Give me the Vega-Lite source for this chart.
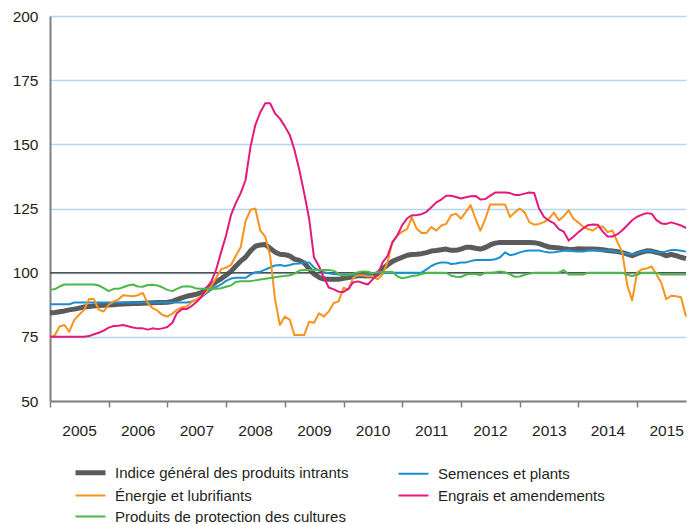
{
  "$schema": "https://vega.github.io/schema/vega-lite/v6.json",
  "width": 636,
  "height": 385,
  "autosize": {"type": "none"},
  "padding": {"left": 50, "top": 16, "right": 6, "bottom": 123},
  "config": {
    "font": "Liberation Sans, Arial",
    "view": {"stroke": null}
  },
  "datasets": {
    "names": [
      {"k": "g", "name": "Indice général des produits intrants"},
      {"k": "s", "name": "Semences et plants"},
      {"k": "e", "name": "Énergie et lubrifiants"},
      {"k": "f", "name": "Engrais et amendements"},
      {"k": "p", "name": "Produits de protection des cultures"}
    ],
    "series": [
      {"d":"2005-01","g":84.3,"s":87.7,"e":74.5,"f":75,"p":93.2},
      {"d":"2005-02","g":84.5,"s":87.7,"e":75.7,"f":75,"p":93.6},
      {"d":"2005-03","g":84.8,"s":87.7,"e":79,"f":75,"p":94.6},
      {"d":"2005-04","g":85.1,"s":87.7,"e":79.6,"f":75,"p":95.4},
      {"d":"2005-05","g":85.5,"s":87.7,"e":77,"f":75,"p":95.4},
      {"d":"2005-06","g":85.8,"s":88.4,"e":81.6,"f":75,"p":95.4},
      {"d":"2005-07","g":86.2,"s":88.4,"e":83.6,"f":75,"p":95.4},
      {"d":"2005-08","g":86.6,"s":88.4,"e":85.5,"f":75,"p":95.4},
      {"d":"2005-09","g":86.8,"s":88.4,"e":89.7,"f":75.3,"p":95.4},
      {"d":"2005-10","g":87,"s":88.4,"e":89.7,"f":76,"p":95.4},
      {"d":"2005-11","g":87.2,"s":88.4,"e":85.5,"f":76.6,"p":95},
      {"d":"2005-12","g":87.3,"s":88.4,"e":84.9,"f":77.4,"p":94},
      {"d":"2006-01","g":87.4,"s":88.4,"e":87.5,"f":78.6,"p":92.8},
      {"d":"2006-02","g":87.5,"s":88.4,"e":88.8,"f":79.2,"p":93.7},
      {"d":"2006-03","g":87.7,"s":88.4,"e":89.5,"f":79.3,"p":93.7},
      {"d":"2006-04","g":87.8,"s":88.4,"e":91.2,"f":79.6,"p":94.3},
      {"d":"2006-05","g":87.9,"s":88.4,"e":91,"f":79.1,"p":95},
      {"d":"2006-06","g":88,"s":88.4,"e":90.8,"f":78.6,"p":95.4},
      {"d":"2006-07","g":88,"s":88.4,"e":91.2,"f":78.3,"p":94.6},
      {"d":"2006-08","g":88.1,"s":88.4,"e":92.1,"f":78.3,"p":94.5},
      {"d":"2006-09","g":88.2,"s":88.4,"e":88.2,"f":77.8,"p":95.2},
      {"d":"2006-10","g":88.3,"s":88.4,"e":86.2,"f":78.3,"p":95.3},
      {"d":"2006-11","g":88.4,"s":88.4,"e":85.2,"f":78,"p":95},
      {"d":"2006-12","g":88.4,"s":88.4,"e":83.5,"f":78.3,"p":94.3},
      {"d":"2007-01","g":88.5,"s":88.4,"e":82.9,"f":78.8,"p":93.3},
      {"d":"2007-02","g":88.8,"s":88.4,"e":84,"f":80.5,"p":92.8},
      {"d":"2007-03","g":89.5,"s":88.4,"e":85.5,"f":84.2,"p":93.7},
      {"d":"2007-04","g":90.2,"s":88.4,"e":86.5,"f":85.8,"p":94.5},
      {"d":"2007-05","g":90.8,"s":88.4,"e":86.8,"f":85.8,"p":94.7},
      {"d":"2007-06","g":91.2,"s":88.8,"e":88.6,"f":87,"p":94.5},
      {"d":"2007-07","g":91.6,"s":89.4,"e":89.5,"f":88.6,"p":93.8},
      {"d":"2007-08","g":92.2,"s":90.5,"e":91,"f":90.5,"p":93.7},
      {"d":"2007-09","g":93.5,"s":92,"e":92.5,"f":94,"p":93.7},
      {"d":"2007-10","g":95,"s":93.4,"e":94.7,"f":96.5,"p":93.7},
      {"d":"2007-11","g":96.5,"s":94.5,"e":98,"f":101.3,"p":93.7},
      {"d":"2007-12","g":97.6,"s":95.4,"e":101.3,"f":107.9,"p":93.9},
      {"d":"2008-01","g":99,"s":96.8,"e":102,"f":114.5,"p":94.5},
      {"d":"2008-02","g":100.5,"s":97.7,"e":103,"f":122.5,"p":95},
      {"d":"2008-03","g":102.5,"s":98,"e":106.5,"f":127,"p":96.4},
      {"d":"2008-04","g":104.5,"s":98,"e":109.9,"f":131,"p":96.7},
      {"d":"2008-05","g":106,"s":98,"e":120,"f":136,"p":96.7},
      {"d":"2008-06","g":108.5,"s":99.2,"e":124.5,"f":149,"p":96.7},
      {"d":"2008-07","g":110.3,"s":100.2,"e":125,"f":157.5,"p":97},
      {"d":"2008-08","g":110.8,"s":100.4,"e":116.4,"f":162.5,"p":97.3},
      {"d":"2008-09","g":111,"s":101.2,"e":114,"f":166,"p":97.6},
      {"d":"2008-10","g":109.5,"s":102,"e":106.6,"f":166,"p":97.9},
      {"d":"2008-11","g":108,"s":102.8,"e":89.5,"f":162,"p":98.2},
      {"d":"2008-12","g":107.2,"s":103,"e":79.6,"f":160,"p":98.5},
      {"d":"2009-01","g":107,"s":102.6,"e":82.9,"f":157,"p":98.7},
      {"d":"2009-02","g":106.5,"s":103,"e":81.6,"f":153.5,"p":99},
      {"d":"2009-03","g":105.3,"s":103.5,"e":75.7,"f":148,"p":99.6},
      {"d":"2009-04","g":104.8,"s":103.6,"e":75.7,"f":140,"p":100.8},
      {"d":"2009-05","g":103.8,"s":104,"e":75.7,"f":131,"p":101},
      {"d":"2009-06","g":101.5,"s":104,"e":80.9,"f":121,"p":101},
      {"d":"2009-07","g":99.5,"s":102,"e":80.5,"f":106,"p":101},
      {"d":"2009-08","g":98.2,"s":100.8,"e":84.2,"f":102.5,"p":101},
      {"d":"2009-09","g":97.5,"s":100.2,"e":82.9,"f":98,"p":101},
      {"d":"2009-10","g":97.4,"s":99.8,"e":84.9,"f":94.2,"p":101},
      {"d":"2009-11","g":97.4,"s":99.5,"e":88.2,"f":93.5,"p":100.7},
      {"d":"2009-12","g":97.4,"s":99.3,"e":88.8,"f":92.6,"p":99.5},
      {"d":"2010-01","g":97.8,"s":99.2,"e":94.1,"f":92.5,"p":98.9},
      {"d":"2010-02","g":98.1,"s":99.1,"e":93.4,"f":93.8,"p":99},
      {"d":"2010-03","g":98.5,"s":99,"e":98,"f":96.2,"p":99.6},
      {"d":"2010-04","g":98.8,"s":98.9,"e":99,"f":96.6,"p":100.2},
      {"d":"2010-05","g":98.8,"s":98.8,"e":99,"f":96,"p":100.5},
      {"d":"2010-06","g":98.7,"s":99.2,"e":98.5,"f":95.4,"p":100.4},
      {"d":"2010-07","g":98.8,"s":99.8,"e":98.7,"f":97.4,"p":99.8},
      {"d":"2010-08","g":99.6,"s":100,"e":97.4,"f":99,"p":100.2},
      {"d":"2010-09","g":101.5,"s":100,"e":99.3,"f":104,"p":100.3},
      {"d":"2010-10","g":103,"s":100,"e":104,"f":106.5,"p":100.3},
      {"d":"2010-11","g":104.4,"s":100,"e":112,"f":111.8,"p":100.3},
      {"d":"2010-12","g":105.2,"s":100,"e":114.5,"f":114.5,"p":98.6},
      {"d":"2011-01","g":106,"s":100,"e":116,"f":118.5,"p":97.8},
      {"d":"2011-02","g":106.8,"s":100,"e":117.1,"f":121.2,"p":98.2},
      {"d":"2011-03","g":107.1,"s":100,"e":121.5,"f":122.3,"p":98.7},
      {"d":"2011-04","g":107.2,"s":100,"e":117.1,"f":122.5,"p":98.9},
      {"d":"2011-05","g":107.4,"s":100,"e":115.5,"f":122.8,"p":99.5},
      {"d":"2011-06","g":107.8,"s":101.3,"e":115.5,"f":123.7,"p":100},
      {"d":"2011-07","g":108.4,"s":102.6,"e":117.8,"f":125.5,"p":100},
      {"d":"2011-08","g":108.6,"s":103.5,"e":116.4,"f":127.4,"p":100},
      {"d":"2011-09","g":108.9,"s":104,"e":118.4,"f":128.5,"p":100},
      {"d":"2011-10","g":109.2,"s":104,"e":119,"f":130,"p":100},
      {"d":"2011-11","g":108.7,"s":103.4,"e":122.4,"f":130,"p":98.8},
      {"d":"2011-12","g":108.7,"s":103.6,"e":123,"f":129.5,"p":98.4},
      {"d":"2012-01","g":109.2,"s":104,"e":121,"f":128.9,"p":98.3},
      {"d":"2012-02","g":109.9,"s":104,"e":123.7,"f":129.4,"p":99.2},
      {"d":"2012-03","g":109.9,"s":104.5,"e":126.3,"f":129.8,"p":99.6},
      {"d":"2012-04","g":109.5,"s":104.9,"e":121,"f":129.9,"p":99.5},
      {"d":"2012-05","g":109.2,"s":104.9,"e":116.4,"f":128.5,"p":99},
      {"d":"2012-06","g":109.8,"s":104.9,"e":121,"f":128.7,"p":100},
      {"d":"2012-07","g":110.8,"s":104.9,"e":126.6,"f":130,"p":100},
      {"d":"2012-08","g":111.5,"s":105.2,"e":126.6,"f":131.2,"p":100.2},
      {"d":"2012-09","g":111.8,"s":106,"e":126.6,"f":131.2,"p":100.5},
      {"d":"2012-10","g":111.8,"s":107.9,"e":126.6,"f":131.2,"p":100.2},
      {"d":"2012-11","g":111.8,"s":106.8,"e":121.7,"f":131,"p":99.3},
      {"d":"2012-12","g":111.8,"s":107.2,"e":123.5,"f":130.3,"p":98.4},
      {"d":"2013-01","g":111.8,"s":107.9,"e":125,"f":130.3,"p":98.5},
      {"d":"2013-02","g":111.8,"s":108.4,"e":123.4,"f":130.8,"p":99.2},
      {"d":"2013-03","g":111.8,"s":108.6,"e":119.7,"f":131.2,"p":99.7},
      {"d":"2013-04","g":111.7,"s":108.6,"e":118.7,"f":131,"p":100},
      {"d":"2013-05","g":111.3,"s":108.6,"e":119,"f":125,"p":100},
      {"d":"2013-06","g":110.6,"s":108.2,"e":119.7,"f":121.7,"p":100},
      {"d":"2013-07","g":110,"s":107.9,"e":121,"f":120.3,"p":100},
      {"d":"2013-08","g":109.8,"s":108,"e":123.4,"f":119.3,"p":100},
      {"d":"2013-09","g":109.6,"s":108.2,"e":120.4,"f":117,"p":100},
      {"d":"2013-10","g":109.3,"s":108.5,"e":122,"f":116,"p":101},
      {"d":"2013-11","g":109.1,"s":108.8,"e":124.3,"f":112.5,"p":99.3},
      {"d":"2013-12","g":109,"s":108.3,"e":121,"f":114,"p":99.3},
      {"d":"2014-01","g":109.3,"s":108.2,"e":119.5,"f":115.8,"p":99.3},
      {"d":"2014-02","g":109.2,"s":108.2,"e":117.8,"f":117.3,"p":99.3},
      {"d":"2014-03","g":109.2,"s":108.6,"e":117,"f":118.5,"p":100},
      {"d":"2014-04","g":109.2,"s":108.8,"e":116.4,"f":118.8,"p":100},
      {"d":"2014-05","g":109.1,"s":108.6,"e":117.8,"f":118.7,"p":100},
      {"d":"2014-06","g":108.9,"s":108.6,"e":118,"f":116,"p":100},
      {"d":"2014-07","g":108.6,"s":108.6,"e":115.8,"f":114.1,"p":100},
      {"d":"2014-08","g":108.4,"s":108.5,"e":116.4,"f":114.1,"p":100},
      {"d":"2014-09","g":108.2,"s":108,"e":111.8,"f":115,"p":100},
      {"d":"2014-10","g":107.8,"s":107.7,"e":107.9,"f":116.5,"p":100},
      {"d":"2014-11","g":107.2,"s":107.4,"e":95,"f":118.5,"p":99.2},
      {"d":"2014-12","g":106.6,"s":107.2,"e":89.2,"f":120.4,"p":98.7},
      {"d":"2015-01","g":107.4,"s":107.6,"e":100,"f":121.8,"p":99.2},
      {"d":"2015-02","g":108,"s":108.2,"e":101.3,"f":122.6,"p":100},
      {"d":"2015-03","g":108.5,"s":108.6,"e":101.6,"f":123.2,"p":100},
      {"d":"2015-04","g":108.4,"s":108.4,"e":102.4,"f":123,"p":100},
      {"d":"2015-05","g":107.9,"s":108,"e":99.3,"f":120.5,"p":100},
      {"d":"2015-06","g":107.4,"s":107.9,"e":96,"f":119.2,"p":99.3},
      {"d":"2015-07","g":106.6,"s":108.3,"e":89.7,"f":119,"p":99.3},
      {"d":"2015-08","g":107.1,"s":108.8,"e":91,"f":119.6,"p":99.3},
      {"d":"2015-09","g":106.6,"s":108.8,"e":90.8,"f":119,"p":99.3},
      {"d":"2015-10","g":106,"s":108.5,"e":90.4,"f":118.4,"p":99.3},
      {"d":"2015-11","g":105.5,"s":108.2,"e":82.9,"f":117.4,"p":99.3}
    ]
  },
  "layer": [
    {
      "data": {"name": "series"},
      "transform": [
        {"fold": ["g", "s", "e", "f", "p"], "as": ["k", "v"]},
        {"lookup": "k", "from": {"data": {"name": "names"}, "key": "k", "fields": ["name"]}},
        {"filter": "datum.k === 'g'"}
      ],
      "mark": {"type": "line", "strokeWidth": 5, "strokeJoin": "round"},
      "encoding": {
        "x": {
          "field": "d", "type": "temporal",
          "scale": {"type": "utc", "domain": ["2005-01-01", "2015-11-01"]},
          "axis": {
            "title": null, "format": "%Y", "tickCount": {"interval": "year", "step": 1},
            "grid": false, "labelOffset": 29, "labelFontSize": 15.5, "labelColor": "#231f20",
            "labelPadding": 16, "tickSize": 6, "tickColor": "#808080", "tickWidth": 1.5,
            "domainColor": "#808080", "domainWidth": 2, "labelFlush": false, "labelOverlap": false
          }
        },
        "y": {
          "field": "v", "type": "quantitative",
          "scale": {"domain": [50, 200], "nice": false, "zero": false},
          "axis": {
            "title": null, "values": [50, 75, 100, 125, 150, 175, 200],
            "grid": true, "gridColor": "#b3d7ee", "gridWidth": 1.5,
            "ticks": false, "tickSize": 0, "labelPadding": 12, "labelFontSize": 15.5,
            "labelColor": "#231f20", "domainColor": "#808080", "domainWidth": 2
          }
        },
        "color": {
          "field": "name", "type": "nominal",
          "scale": {
            "domain": [
              "Indice général des produits intrants",
              "Semences et plants",
              "Énergie et lubrifiants",
              "Engrais et amendements",
              "Produits de protection des cultures"
            ],
            "range": ["#5b5b5b", "#1b8fcf", "#f7931e", "#e4197c", "#4db848"]
          },
          "legend": {
            "title": null, "orient": "none", "legendX": 33, "legendY": 449,
            "direction": "horizontal", "columns": 2, "columnPadding": 45, "rowPadding": 5,
            "symbolType": "stroke", "symbolSize": 900, "symbolStrokeWidth": 2,
            "labelFontSize": 15, "labelColor": "#231f20", "labelOffset": 17,
            "labelLimit": 400, "padding": 0, "offset": 0,
            "encode": {
              "symbols": {
                "update": {
                  "strokeWidth": {"signal": "datum.value === 'Indice général des produits intrants' ? 5 : 2"}
                }
              }
            }
          }
        }
      }
    },
    {
      "data": {"values": [{}]},
      "mark": {"type": "rule", "color": "#505050", "strokeWidth": 1.5},
      "encoding": {"y": {"datum": 100, "type": "quantitative"}}
    },
    {
      "data": {"name": "series"},
      "transform": [
        {"fold": ["g", "s", "e", "f", "p"], "as": ["k", "v"]},
        {"lookup": "k", "from": {"data": {"name": "names"}, "key": "k", "fields": ["name"]}},
        {"filter": "datum.k !== 'g'"}
      ],
      "mark": {"type": "line", "strokeWidth": 2, "strokeJoin": "round"},
      "encoding": {
        "x": {"field": "d", "type": "temporal"},
        "y": {"field": "v", "type": "quantitative"},
        "color": {"field": "name", "type": "nominal"}
      }
    }
  ]
}
